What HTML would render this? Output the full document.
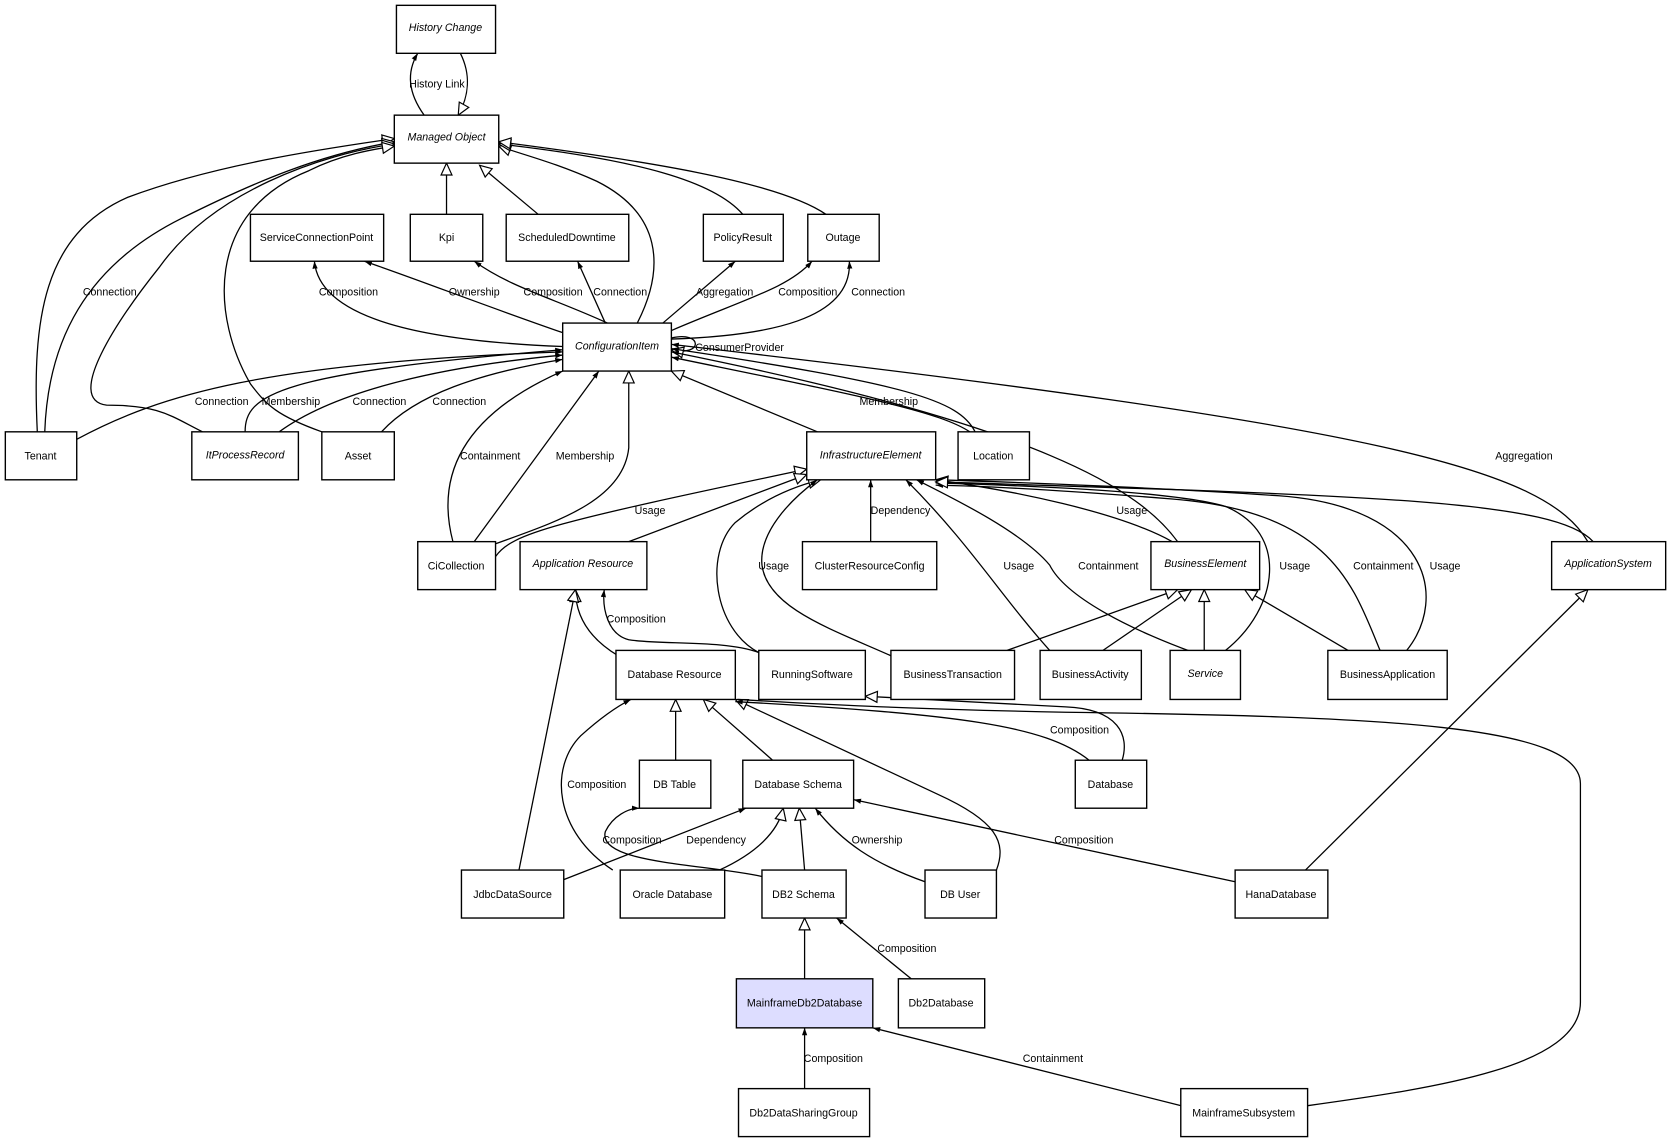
<!DOCTYPE html>
<html><head><meta charset="utf-8"><style>
html,body{margin:0;padding:0;background:#fff;}
svg{display:block;}
text{font-family:"Liberation Sans",Arial,sans-serif;font-size:10px;fill:#000;}
.n{fill:#fff;stroke:#000;stroke-width:1.3;}
.e{fill:none;stroke:#000;stroke-width:1.2;}
.i{font-style:italic;}
</style></head><body>
<svg width="1671" height="1143" viewBox="0 0 1568 1072" preserveAspectRatio="none" xmlns="http://www.w3.org/2000/svg">
<defs>
<marker id="f" viewBox="0 0 10 10" refX="10" refY="5" markerWidth="7" markerHeight="7" orient="auto" markerUnits="userSpaceOnUse"><path d="M0,1.5 L10,5 L0,8.5 z" fill="#000"/></marker>
<marker id="h" viewBox="0 0 14 14" refX="13" refY="7" markerWidth="13" markerHeight="13" orient="auto" markerUnits="userSpaceOnUse"><path d="M1,1.5 L13,7 L1,12.5 z" fill="#fff" stroke="#000" stroke-width="1.2"/></marker>
</defs>
<g class="e">
<path d="M398,108 C385,90 380,70 392,50" marker-end="url(#f)"/>
<path d="M432,50 C442,70 440,90 430,108" marker-end="url(#h)"/>
<path d="M419,201 L419,153" marker-end="url(#h)"/>
<path d="M505,201 L450,155" marker-end="url(#h)"/>
<path d="M35,405 C30,300 40,220 120,185 C200,155 300,140 370,130" marker-end="url(#h)"/>
<path d="M42,405 C45,320 80,250 170,205 C240,170 300,145 370,133" marker-end="url(#h)"/>
<path d="M190,405 C160,390 150,380 100,380 C60,375 110,300 150,250 C200,180 300,145 370,135" marker-end="url(#h)"/>
<path d="M302,405 C260,390 250,380 235,360 C200,300 190,200 290,160 C320,145 350,140 370,137" marker-end="url(#h)"/>
<path d="M598,303 C625,250 620,200 560,170 C520,152 490,145 468,137" marker-end="url(#h)"/>
<path d="M697,201 C670,170 600,150 468,135" marker-end="url(#h)"/>
<path d="M775,201 C730,170 600,150 468,133" marker-end="url(#h)"/>
<path d="M528,325 C400,320 300,300 295,245" marker-end="url(#f)"/>
<path d="M528,312 C450,285 400,265 342,245" marker-end="url(#f)"/>
<path d="M570,303 C520,280 480,270 445,245" marker-end="url(#f)"/>
<path d="M568,303 L542,245" marker-end="url(#f)"/>
<path d="M622,303 L690,245" marker-end="url(#f)"/>
<path d="M630,310 C700,280 740,270 762,245" marker-end="url(#f)"/>
<path d="M630,318 C720,315 800,300 797,245" marker-end="url(#f)"/>
<path d="M630,317 C660,310 660,335 630,328" marker-end="url(#h)"/>
<path d="M72,412 C150,370 250,340 528,330" marker-end="url(#f)"/>
<path d="M230,405 C230,370 260,350 528,328" marker-end="url(#f)"/>
<path d="M262,405 C310,370 400,345 528,333" marker-end="url(#f)"/>
<path d="M358,405 C390,370 450,350 528,337" marker-end="url(#f)"/>
<path d="M425,508 C415,470 410,400 528,348" marker-end="url(#f)"/>
<path d="M445,508 L562,348" marker-end="url(#f)"/>
<path d="M465,510 C520,490 585,470 590,420 L590,348" marker-end="url(#h)"/>
<path d="M767,405 L630,348" marker-end="url(#h)"/>
<path d="M910,405 C880,385 800,370 630,335" marker-end="url(#f)"/>
<path d="M915,405 C900,375 850,360 630,327" marker-end="url(#f)"/>
<path d="M1105,508 C1070,460 980,400 630,330" marker-end="url(#f)"/>
<path d="M1490,508 C1450,440 1300,400 630,323" marker-end="url(#f)"/>
<path d="M465,522 C480,500 520,490 757,440" marker-end="url(#h)"/>
<path d="M590,508 L757,445" marker-end="url(#h)"/>
<path d="M817,508 L817,450" marker-end="url(#f)"/>
<path d="M712,612 C670,590 660,520 690,490 C720,465 750,455 770,450" marker-end="url(#h)"/>
<path d="M836,615 C780,590 720,570 715,530 C712,500 740,470 767,450" marker-end="url(#f)"/>
<path d="M985,610 C940,560 910,510 850,450" marker-end="url(#f)"/>
<path d="M1120,612 C1060,590 1000,560 985,530 C960,500 900,470 860,450" marker-end="url(#f)"/>
<path d="M1100,508 C1050,480 950,460 878,450" marker-end="url(#h)"/>
<path d="M1150,610 C1200,570 1210,500 1150,475 C1100,460 950,455 878,453" marker-end="url(#f)"/>
<path d="M1295,610 C1270,550 1250,480 1100,468 C1000,460 930,456 878,455" marker-end="url(#f)"/>
<path d="M1320,610 C1360,560 1340,475 1200,465 C1100,458 950,452 878,450" marker-end="url(#f)"/>
<path d="M1495,508 C1460,470 1300,465 878,452" marker-end="url(#h)"/>
<path d="M945,610 L1105,553" marker-end="url(#h)"/>
<path d="M1035,610 L1118,553" marker-end="url(#h)"/>
<path d="M1130,610 L1130,553" marker-end="url(#h)"/>
<path d="M1265,610 L1168,553" marker-end="url(#h)"/>
<path d="M580,615 C555,600 540,580 540,553" marker-end="url(#h)"/>
<path d="M712,612 C680,600 620,605 590,600 C570,595 565,570 567,553" marker-end="url(#f)"/>
<path d="M487,816 L540,553" marker-end="url(#h)"/>
<path d="M634,713 L634,656" marker-end="url(#h)"/>
<path d="M725,713 L660,656" marker-end="url(#h)"/>
<path d="M935,816 C945,790 935,770 880,745 L690,656" marker-end="url(#h)"/>
<path d="M1053,713 C1060,690 1050,665 1000,663 L812,653" marker-end="url(#h)"/>
<path d="M1022,713 C980,680 900,670 690,658" marker-end="url(#f)"/>
<path d="M1227,1037 C1350,1020 1483,1000 1483,940 L1483,735 C1483,680 1300,672 1000,668 C850,665 760,660 692,656"/>
<path d="M575,816 C520,780 515,720 545,690 C565,672 580,662 592,656" marker-end="url(#f)"/>
<path d="M715,822 C660,810 560,810 568,780 C575,765 590,758 600,758" marker-end="url(#f)"/>
<path d="M675,816 C710,800 730,780 735,758" marker-end="url(#h)"/>
<path d="M529,825 L700,758" marker-end="url(#f)"/>
<path d="M755,816 L750,758" marker-end="url(#h)"/>
<path d="M868,827 C820,810 790,790 765,758" marker-end="url(#f)"/>
<path d="M1159,827 L801,750" marker-end="url(#f)"/>
<path d="M1225,816 L1490,553" marker-end="url(#h)"/>
<path d="M755,918 L755,861" marker-end="url(#h)"/>
<path d="M855,918 L785,861" marker-end="url(#f)"/>
<path d="M755,1021 L755,964" marker-end="url(#f)"/>
<path d="M1108,1037 L819,964" marker-end="url(#f)"/>
</g>
<g>
<rect class="n" x="372" y="5" width="93" height="45"/>
<rect class="n" x="370" y="108" width="98" height="45"/>
<rect class="n" x="235" y="201" width="125" height="44"/>
<rect class="n" x="385" y="201" width="68" height="44"/>
<rect class="n" x="475" y="201" width="115" height="44"/>
<rect class="n" x="660" y="201" width="75" height="44"/>
<rect class="n" x="758" y="201" width="67" height="44"/>
<rect class="n" x="528" y="303" width="102" height="45"/>
<rect class="n" x="5" y="405" width="67" height="45"/>
<rect class="n" x="180" y="405" width="100" height="45"/>
<rect class="n" x="302" y="405" width="68" height="45"/>
<rect class="n" x="757" y="405" width="121" height="45"/>
<rect class="n" x="899" y="405" width="67" height="45"/>
<rect class="n" x="392" y="508" width="73" height="45"/>
<rect class="n" x="488" y="508" width="119" height="45"/>
<rect class="n" x="753" y="508" width="126" height="45"/>
<rect class="n" x="1080" y="508" width="102" height="45"/>
<rect class="n" x="1456" y="508" width="107" height="45"/>
<rect class="n" x="578" y="610" width="112" height="46"/>
<rect class="n" x="712" y="610" width="100" height="46"/>
<rect class="n" x="836" y="610" width="116" height="46"/>
<rect class="n" x="976" y="610" width="95" height="46"/>
<rect class="n" x="1098" y="610" width="66" height="46"/>
<rect class="n" x="1246" y="610" width="112" height="46"/>
<rect class="n" x="600" y="713" width="67" height="45"/>
<rect class="n" x="697" y="713" width="104" height="45"/>
<rect class="n" x="1009" y="713" width="67" height="45"/>
<rect class="n" x="433" y="816" width="96" height="45"/>
<rect class="n" x="582" y="816" width="98" height="45"/>
<rect class="n" x="715" y="816" width="79" height="45"/>
<rect class="n" x="868" y="816" width="67" height="45"/>
<rect class="n" x="1159" y="816" width="87" height="45"/>
<rect class="n" x="691" y="918" width="128" height="46" style="fill:#ddddff"/>
<rect class="n" x="843" y="918" width="81" height="46"/>
<rect class="n" x="693" y="1021" width="123" height="45"/>
<rect class="n" x="1108" y="1021" width="119" height="45"/>
</g>
<g text-anchor="middle">
<text class="i" x="418" y="29">History Change</text>
<text class="i" x="419" y="132">Managed Object</text>
<text x="297" y="226">ServiceConnectionPoint</text>
<text x="419" y="226">Kpi</text>
<text x="532" y="226">ScheduledDowntime</text>
<text x="697" y="226">PolicyResult</text>
<text x="791" y="226">Outage</text>
<text class="i" x="579" y="328">ConfigurationItem</text>
<text x="38" y="431">Tenant</text>
<text class="i" x="230" y="430">ItProcessRecord</text>
<text x="336" y="431">Asset</text>
<text class="i" x="817" y="430">InfrastructureElement</text>
<text x="932" y="431">Location</text>
<text x="428" y="534">CiCollection</text>
<text class="i" x="547" y="532">Application Resource</text>
<text x="816" y="534">ClusterResourceConfig</text>
<text class="i" x="1131" y="532">BusinessElement</text>
<text class="i" x="1509" y="532">ApplicationSystem</text>
<text x="633" y="636">Database Resource</text>
<text x="762" y="636">RunningSoftware</text>
<text x="894" y="636">BusinessTransaction</text>
<text x="1023" y="636">BusinessActivity</text>
<text class="i" x="1131" y="635">Service</text>
<text x="1302" y="636">BusinessApplication</text>
<text x="633" y="739">DB Table</text>
<text x="749" y="739">Database Schema</text>
<text x="1042" y="739">Database</text>
<text x="481" y="842">JdbcDataSource</text>
<text x="631" y="842">Oracle Database</text>
<text x="754" y="842">DB2 Schema</text>
<text x="901" y="842">DB User</text>
<text x="1202" y="842">HanaDatabase</text>
<text x="755" y="944">MainframeDb2Database</text>
<text x="883" y="944">Db2Database</text>
<text x="754" y="1047">Db2DataSharingGroup</text>
<text x="1167" y="1047">MainframeSubsystem</text>
</g>
<g text-anchor="middle">
<text x="410" y="82">History Link</text>
<text x="103" y="277">Connection</text>
<text x="327" y="277">Composition</text>
<text x="445" y="277">Ownership</text>
<text x="519" y="277">Composition</text>
<text x="582" y="277">Connection</text>
<text x="680" y="277">Aggregation</text>
<text x="758" y="277">Composition</text>
<text x="824" y="277">Connection</text>
<text x="694" y="329">ConsumerProvider</text>
<text x="208" y="380">Connection</text>
<text x="273" y="380">Membership</text>
<text x="356" y="380">Connection</text>
<text x="431" y="380">Connection</text>
<text x="834" y="380">Membership</text>
<text x="460" y="431">Containment</text>
<text x="549" y="431">Membership</text>
<text x="1430" y="431">Aggregation</text>
<text x="610" y="482">Usage</text>
<text x="845" y="482">Dependency</text>
<text x="1062" y="482">Usage</text>
<text x="726" y="534">Usage</text>
<text x="956" y="534">Usage</text>
<text x="1040" y="534">Containment</text>
<text x="1215" y="534">Usage</text>
<text x="1298" y="534">Containment</text>
<text x="1356" y="534">Usage</text>
<text x="597" y="584">Composition</text>
<text x="1013" y="688">Composition</text>
<text x="560" y="739">Composition</text>
<text x="593" y="791">Composition</text>
<text x="672" y="791">Dependency</text>
<text x="823" y="791">Ownership</text>
<text x="1017" y="791">Composition</text>
<text x="851" y="893">Composition</text>
<text x="782" y="996">Composition</text>
<text x="988" y="996">Containment</text>
</g>
</svg>
</body></html>
